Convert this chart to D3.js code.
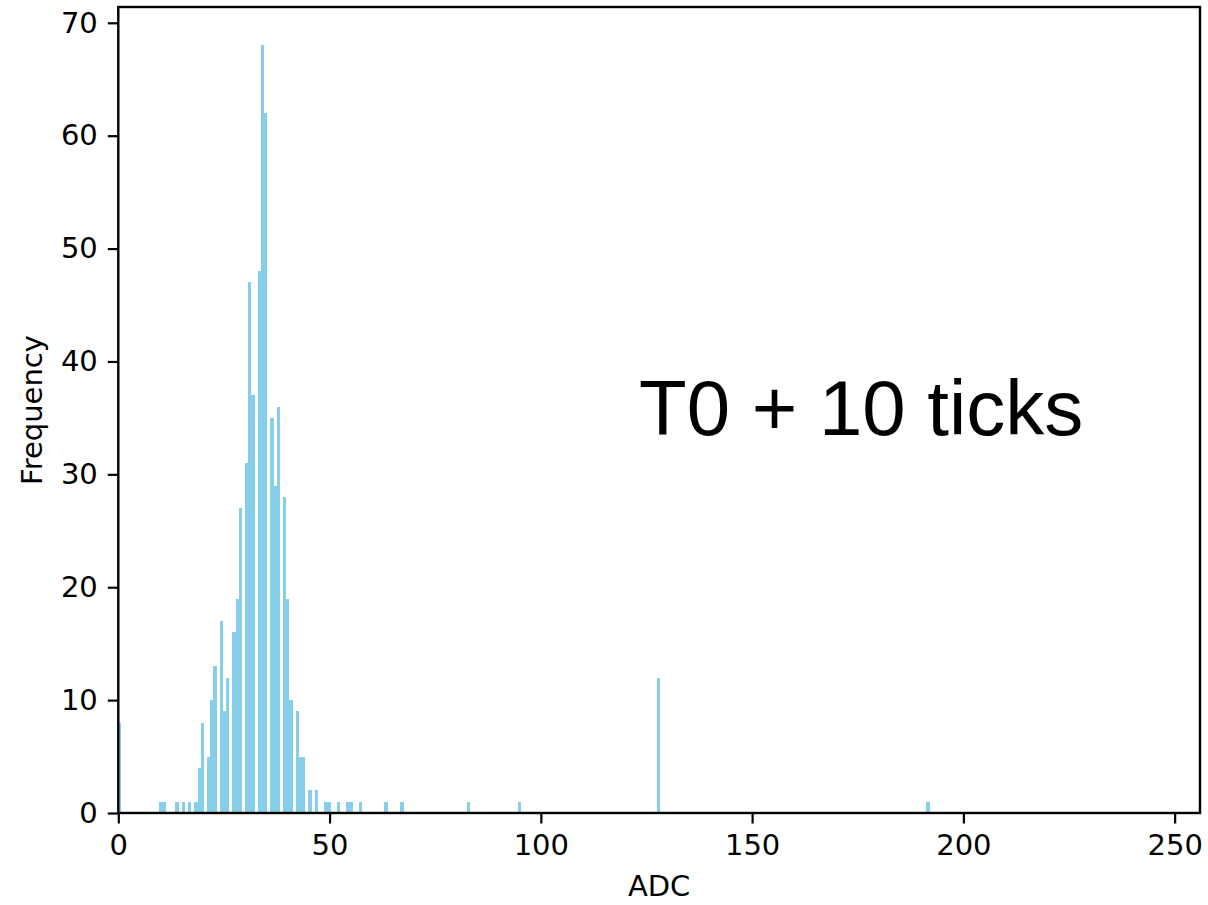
<!DOCTYPE html>
<html>
<head>
<meta charset="utf-8">
<script src="https://cdn.jsdelivr.net/npm/d3@7"></script>
<style>
  html, body { margin: 0; padding: 0; background: #fff; }
  svg { display: block; }
</style>
</head>
<body>
<div id="chart"></div>
<script>
// ---- Data ----
const adcValues   = [0, 10, 11, 14, 15, 17, 18, 19, 20, 21, 22, 23, 24, 25, 26, 27, 28, 29,
                     30, 31, 32, 33, 34, 35, 36, 37, 38, 39, 40, 41, 42, 43, 44, 45, 47,
                     49, 50, 52, 54, 55, 57, 63, 67, 83, 95, 128, 192];
const frequencies = [8, 1, 1, 1, 1, 1, 1, 4, 8, 5, 10, 13, 17, 9, 12, 16, 19, 27,
                     31, 47, 37, 48, 68, 62, 35, 29, 36, 28, 19, 10, 9, 5, 5, 2, 2,
                     1, 1, 1, 1, 1, 1, 1, 1, 1, 1, 12, 1];
const xTicks = [0, 50, 100, 150, 200, 250];
const yTicks = [0, 10, 20, 30, 40, 50, 60, 70];
const histRange = [0, 192];   // data range that was binned
const binCount = 256;         // number of histogram bins
const xDomain = [0, 256];
const xLabel = "ADC";
const yLabel = "Frequency";
const annotation = "T0 + 10 ticks";

// ---- Layout ----
const W = 1208, H = 905;
const plot = { left: 118.3, right: 1200, top: 7, bottom: 813 };
const barColor = "#87CEEB";
const tickFont = "DejaVu Sans, sans-serif";
const fontSize = 29;

const svg = d3.select("#chart").append("svg")
  .attr("width", W).attr("height", H);

const x = d3.scaleLinear().domain(xDomain).range([plot.left, plot.right]);
const yMax = d3.max(frequencies) * 1.05;
const y = d3.scaleLinear().domain([0, yMax]).range([plot.bottom, plot.top]);

const binWidth = (histRange[1] - histRange[0]) / binCount;
const bins = adcValues.map((v, i) => {
  let k = Math.floor((v - histRange[0]) / binWidth);
  if (k >= binCount) k = binCount - 1;
  const x0 = histRange[0] + k * binWidth;
  return { x0, x1: x0 + binWidth, n: frequencies[i] };
});

// Bars
svg.append("g")
  .selectAll("rect")
  .data(bins)
  .join("rect")
  .attr("x", d => x(d.x0))
  .attr("width", d => x(d.x1) - x(d.x0))
  .attr("y", d => y(d.n))
  .attr("height", d => y(0) - y(d.n))
  .attr("fill", barColor)
  .attr("shape-rendering", "crispEdges");

// Axes
const tickLen = 10.5;
const xAxis = d3.axisBottom(x).tickValues(xTicks).tickSize(tickLen).tickPadding(10).tickFormat(d3.format("d"));
const yAxis = d3.axisLeft(y).tickValues(yTicks).tickSize(tickLen).tickPadding(10).tickFormat(d3.format("d"));

const gx = svg.append("g").attr("transform", `translate(0,${plot.bottom})`).call(xAxis);
const gy = svg.append("g").attr("transform", `translate(${plot.left},0)`).call(yAxis);

[gx, gy].forEach(g => {
  g.select(".domain").remove();
  g.selectAll(".tick line").attr("stroke", "#000").attr("stroke-width", 2.2);
  g.selectAll(".tick text")
    .attr("fill", "#000")
    .style("font-family", tickFont)
    .style("font-size", fontSize + "px");
});
gx.selectAll(".tick text").attr("dy", "0.74em");

// Frame (spines)
svg.append("rect")
  .attr("x", plot.left).attr("y", plot.top)
  .attr("width", plot.right - plot.left).attr("height", plot.bottom - plot.top)
  .attr("fill", "none").attr("stroke", "#000").attr("stroke-width", 2.4);

// Axis labels
svg.append("text")
  .attr("x", (plot.left + plot.right) / 2).attr("y", 896)
  .attr("text-anchor", "middle")
  .style("font-family", tickFont).style("font-size", fontSize + "px")
  .text(xLabel);

svg.append("text")
  .attr("transform", `translate(42,${(plot.top + plot.bottom) / 2}) rotate(-90)`)
  .attr("text-anchor", "middle")
  .style("font-family", tickFont).style("font-size", fontSize + "px")
  .text(yLabel);

// Annotation
svg.append("text")
  .attr("x", 639).attr("y", 435)
  .style("font-family", "Liberation Sans, Arial, sans-serif")
  .style("font-size", "78px")
  .attr("fill", "#000")
  .text(annotation);
</script>
</body>
</html>
